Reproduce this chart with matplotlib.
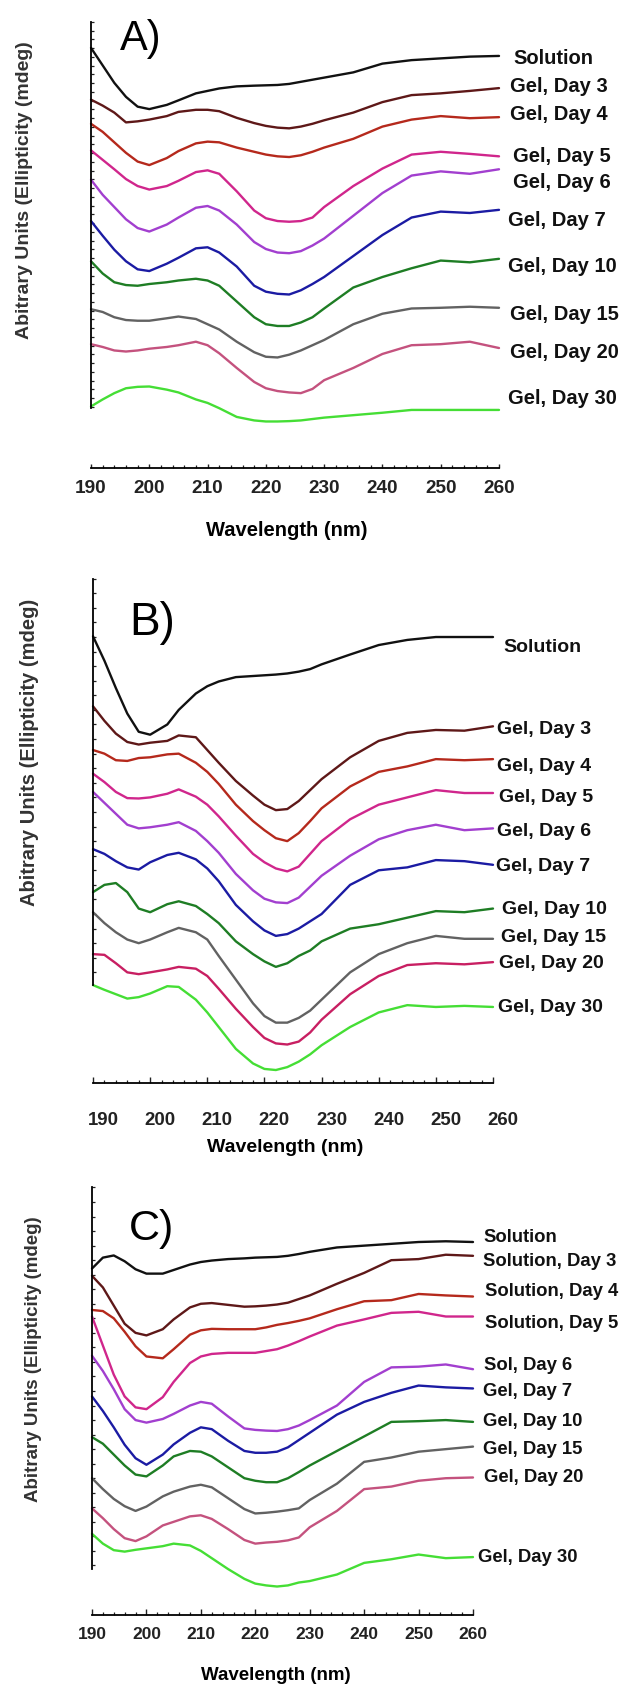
import numpy as np
import matplotlib
matplotlib.use('Agg')
import matplotlib.pyplot as plt
from matplotlib.ticker import FixedLocator
from matplotlib.transforms import ScaledTranslation

plt.rcParams['font.family'] = ['Liberation Sans', 'DejaVu Sans']

W, H = 620, 1689

WAVELENGTH = [190, 192, 194, 196, 198, 200, 203, 205, 208, 210, 212, 215, 218,
              220, 222, 224, 226, 228, 230, 235, 240, 245, 250, 255, 260]
XTICKS = [190, 200, 210, 220, 230, 240, 250, 260]

# ---- panel A (arbitrary units, stacked) ----
A_SOLUTION = [1265, 1215, 1165, 1125, 1097, 1090, 1102, 1115, 1135, 1142, 1149, 1155, 1157,
              1158, 1159, 1162, 1168, 1174, 1180, 1195, 1220, 1230, 1235, 1240, 1242]
A_DAY3 = [1117, 1100, 1080, 1052, 1055, 1060, 1070, 1082, 1088, 1088, 1084, 1065, 1050,
          1042, 1037, 1035, 1040, 1048, 1058, 1080, 1110, 1130, 1135, 1142, 1150]
A_DAY4 = [1048, 1025, 995, 965, 940, 930, 950, 970, 992, 997, 995, 980, 968,
          960, 955, 953, 958, 968, 980, 1005, 1040, 1060, 1070, 1064, 1067]
A_DAY5 = [972, 945, 918, 890, 870, 860, 870, 885, 910, 915, 905, 855, 800,
          778, 770, 768, 770, 780, 810, 870, 920, 960, 968, 962, 955]
A_DAY6 = [888, 845, 810, 775, 750, 740, 760, 780, 808, 813, 800, 760, 710,
          690, 680, 678, 684, 700, 720, 785, 850, 900, 912, 905, 918]
A_DAY7 = [770, 728, 688, 655, 632, 627, 648, 665, 692, 695, 680, 640, 585,
          568, 562, 560, 572, 590, 610, 670, 730, 780, 797, 793, 802]
A_DAY10 = [655, 620, 595, 587, 585, 590, 595, 600, 605, 600, 585, 540, 495,
           475, 470, 470, 480, 495, 520, 580, 610, 635, 657, 652, 662]
A_DAY15 = [518, 510, 495, 487, 485, 485, 492, 497, 490, 475, 460, 425, 395,
           382, 380, 388, 400, 415, 430, 475, 505, 520, 522, 525, 522]
A_DAY20 = [418, 410, 400, 397, 400, 405, 410, 415, 425, 415, 392, 350, 310,
           292, 284, 280, 278, 290, 315, 350, 390, 415, 418, 425, 407]
A_DAY30 = [240, 260, 278, 292, 296, 297, 288, 280, 260, 250, 235, 210, 200,
           197, 197, 198, 200, 204, 208, 215, 222, 230, 230, 230, 230]

# ---- panel B ----
B_SOLUTION = [1272, 1205, 1130, 1060, 1010, 1002, 1030, 1070, 1115, 1135, 1148, 1160, 1163,
              1165, 1167, 1170, 1175, 1182, 1195, 1222, 1248, 1262, 1270, 1270, 1270]
B_DAY3 = [1080, 1040, 1005, 982, 975, 980, 985, 1000, 995, 960, 925, 875, 835,
          810, 795, 798, 820, 850, 880, 940, 985, 1007, 1015, 1013, 1025]
B_DAY4 = [960, 950, 932, 930, 938, 940, 948, 950, 925, 900, 867, 810, 765,
          740, 718, 710, 732, 765, 800, 860, 900, 915, 935, 932, 935]
B_DAY5 = [895, 872, 845, 828, 827, 830, 840, 852, 832, 810, 778, 725, 675,
          652, 635, 627, 640, 675, 710, 770, 810, 830, 850, 842, 842]
B_DAY6 = [845, 815, 785, 755, 745, 748, 755, 762, 738, 710, 678, 620, 575,
          552, 542, 540, 555, 585, 615, 670, 715, 740, 755, 740, 745]
B_DAY7 = [688, 675, 655, 638, 632, 652, 672, 678, 660, 635, 600, 535, 490,
          465, 450, 455, 470, 490, 510, 590, 630, 638, 658, 655, 645]
B_DAY10 = [570, 590, 595, 570, 525, 515, 537, 545, 532, 510, 485, 435, 400,
           380, 365, 375, 395, 410, 435, 470, 482, 500, 518, 515, 525]
B_DAY15 = [515, 485, 460, 440, 430, 440, 460, 472, 460, 440, 395, 330, 265,
           230, 212, 212, 225, 245, 275, 350, 400, 430, 450, 442, 442]
B_DAY20 = [400, 398, 375, 350, 345, 350, 358, 365, 360, 340, 305, 250, 200,
           170, 155, 152, 160, 185, 220, 290, 340, 370, 375, 372, 378]
B_DAY30 = [315, 302, 290, 278, 282, 292, 312, 310, 275, 240, 200, 140, 100,
           85, 82, 90, 105, 125, 150, 200, 240, 260, 255, 258, 255]

# ---- panel C ----
C_SOLUTION = [992, 1022, 1028, 1012, 990, 978, 978, 988, 1003, 1010, 1014, 1018, 1020,
              1022, 1023, 1024, 1027, 1032, 1038, 1050, 1055, 1060, 1065, 1067, 1065]
C_DAY3 = [972, 940, 890, 840, 815, 808, 825, 852, 885, 895, 897, 892, 887,
          888, 890, 893, 898, 908, 918, 950, 980, 1015, 1018, 1030, 1027]
C_DAY4 = [878, 875, 855, 818, 778, 750, 745, 770, 810, 822, 826, 825, 825,
          825, 830, 837, 842, 848, 855, 880, 902, 905, 922, 918, 915]
C_DAY5 = [860, 780, 700, 640, 610, 605, 638, 680, 732, 750, 757, 760, 760,
          760, 765, 770, 780, 792, 805, 835, 852, 870, 873, 860, 860]
C_DAY6 = [752, 710, 660, 605, 575, 568, 578, 592, 615, 625, 620, 585, 552,
          548, 546, 545, 550, 560, 575, 615, 680, 720, 722, 728, 715]
C_DAY7 = [640, 600, 555, 507, 470, 452, 480, 508, 540, 555, 550, 518, 490,
          485, 485, 488, 500, 520, 540, 590, 625, 650, 670, 665, 662]
C_DAY10 = [528, 510, 480, 450, 425, 420, 450, 475, 490, 488, 475, 445, 415,
           408, 404, 404, 415, 432, 450, 490, 530, 570, 572, 575, 570]
C_DAY15 = [415, 385, 358, 338, 325, 337, 365, 378, 392, 397, 390, 360, 330,
           318, 320, 323, 327, 332, 355, 400, 460, 472, 488, 495, 502]
C_DAY20 = [332, 305, 275, 250, 242, 255, 285, 295, 310, 313, 303, 275, 245,
           235, 238, 240, 244, 252, 280, 325, 385, 392, 408, 415, 417]
C_DAY30 = [262, 235, 217, 213, 218, 222, 228, 235, 230, 215, 195, 165, 138,
           125, 120, 117, 120, 128, 132, 150, 182, 192, 205, 195, 198]

GEL_LABELS = ['Solution', 'Gel, Day 3', 'Gel, Day 4', 'Gel, Day 5', 'Gel, Day 6',
              'Gel, Day 7', 'Gel, Day 10', 'Gel, Day 15', 'Gel, Day 20', 'Gel, Day 30']
C_LABELS = ['Solution', 'Solution, Day 3', 'Solution, Day 4', 'Solution, Day 5', 'Sol, Day 6',
            'Gel, Day 7', 'Gel, Day 10', 'Gel, Day 15', 'Gel, Day 20', 'Gel, Day 30']

COLORS_A = ['#111111', '#5e1818', '#b5291c', '#d0268c', '#a23fcf',
            '#1b1ba3', '#1e7d24', '#626262', '#c4527e', '#45de35']
COLORS_B = ['#111111', '#5e1818', '#b5291c', '#d0268c', '#a23fcf',
            '#1b1ba3', '#1e7d24', '#626262', '#c81f62', '#45de35']
COLORS_C = COLORS_A

fig = plt.figure(figsize=(W / 100, H / 100), dpi=100)


def rect(left, top, right, bottom):
    return [left / W, 1 - bottom / H, (right - left) / W, (bottom - top) / H]


def ptext(x, y, s, **kw):
    fig.text(x / W, 1 - y / H, s, **kw)


def panel(box, ylim, spine_lo, ystep, series, colors, labels, label_xy, label_fs,
          tick_fs, major_len, tick_pad, tick_shift=0):
    ax = fig.add_axes(rect(*box))
    ax.patch.set_visible(False)
    for vals, c in zip(series, colors):
        ax.plot(WAVELENGTH, vals, color=c, lw=1.7, clip_on=False,
                solid_joinstyle='round', solid_capstyle='round')
    ax.set_xlim(190, 260)
    ax.set_ylim(*ylim)
    ax.spines['top'].set_visible(False)
    ax.spines['right'].set_visible(False)
    ax.spines['left'].set_bounds(spine_lo, ylim[1])
    ax.spines['left'].set_linewidth(1.3)
    ax.spines['bottom'].set_linewidth(1.3)
    ax.set_xticks(XTICKS)
    ax.set_xticklabels([str(t) for t in XTICKS], fontweight='bold', fontsize=tick_fs)
    ax.xaxis.set_minor_locator(FixedLocator(np.arange(190, 261, 2)))
    ax.yaxis.set_major_locator(FixedLocator(np.arange(ylim[1], spine_lo - 1, -ystep)))
    ax.tick_params(axis='x', which='major', direction='in', length=major_len,
                   width=1.0, pad=tick_pad, colors='#222222')
    ax.tick_params(axis='x', which='minor', direction='in', length=2.2, width=0.9,
                   colors='#222222')
    ax.tick_params(axis='y', direction='in', length=2.5, width=0.9, labelleft=False,
                   colors='#222222')
    if tick_shift:
        off = ScaledTranslation(tick_shift / 100, 0, fig.dpi_scale_trans)
        for t in ax.get_xticklabels():
            t.set_transform(t.get_transform() + off)
    for lab, (x, y) in zip(labels, label_xy):
        ptext(x, y, lab, ha='left', va='center', fontsize=label_fs,
              fontweight='bold', color='#111111')
    return ax


# panel A
panel((91, 22, 499, 468), (64, 1339), 235, 25,
      [A_SOLUTION, A_DAY3, A_DAY4, A_DAY5, A_DAY6, A_DAY7, A_DAY10, A_DAY15, A_DAY20, A_DAY30],
      COLORS_A, GEL_LABELS,
      [(513, 59), (510, 87), (510, 115), (513, 157), (513, 183), (508, 220),
       (508, 267), (510, 315), (510, 353), (508, 398)],
      14.5, 13.7, 3.0, 8.8)
ptext(120, 50, 'A)', fontsize=30, ha='left', va='baseline')
ptext(287, 531, 'Wavelength (nm)', fontsize=14.5, fontweight='bold', ha='center', va='center')
ptext(25, 190, 'Abitrary Units (Ellipticity (mdeg)', fontsize=14, fontweight='bold',
      rotation=90, ha='center', va='center', color='#333333')

# panel B
panel((93, 578.7, 493, 1083), (46.4, 1430), 315, 40,
      [B_SOLUTION, B_DAY3, B_DAY4, B_DAY5, B_DAY6, B_DAY7, B_DAY10, B_DAY15, B_DAY20, B_DAY30],
      COLORS_B, GEL_LABELS,
      [(503, 648), (497, 729), (497, 767), (499, 798), (497, 832), (496, 867),
       (502, 910), (501, 937), (499, 963), (498, 1008)],
      14, 13.4, 4.5, 21, tick_shift=10)
ptext(129, 635, 'B)', fontsize=33, ha='left', va='baseline')
ptext(285, 1147, 'Wavelength (nm)', fontsize=14, fontweight='bold', ha='center', va='center')
ptext(30, 752, 'Abitrary Units (Ellipticity (mdeg)', fontsize=14.5, fontweight='bold',
      rotation=90, ha='center', va='center', color='#333333')

# panel C
panel((92, 1187.5, 473, 1615), (38.6, 1215), 165, 40,
      [C_SOLUTION, C_DAY3, C_DAY4, C_DAY5, C_DAY6, C_DAY7, C_DAY10, C_DAY15, C_DAY20, C_DAY30],
      COLORS_C, C_LABELS,
      [(483, 1237), (483, 1262), (485, 1292), (485, 1323), (484, 1365), (483, 1392),
       (483, 1422), (483, 1450), (484, 1478), (478, 1558)],
      13.3, 12.5, 4.0, 8.5)
ptext(129, 1240, 'C)', fontsize=31, ha='left', va='baseline')
ptext(276, 1676, 'Wavelength (nm)', fontsize=13.5, fontweight='bold', ha='center', va='center')
ptext(34, 1359, 'Abitrary Units (Ellipticity (mdeg)', fontsize=13.5, fontweight='bold',
      rotation=90, ha='center', va='center', color='#333333')

fig.savefig('out.png', dpi=100)
